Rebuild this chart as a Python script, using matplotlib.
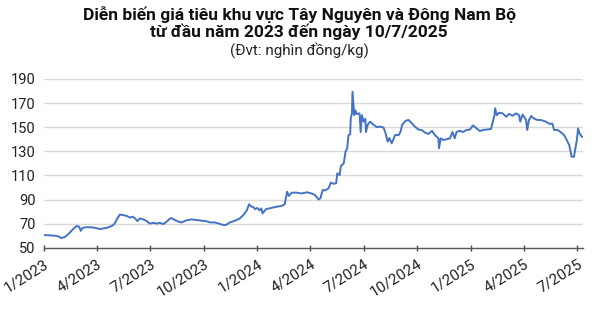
import matplotlib
matplotlib.use("Agg")
import matplotlib.pyplot as plt
import pandas as pd

plt.rcParams['font.family'] = ['Roboto', 'DejaVu Sans']

title_line1 = "Diễn biến giá tiêu khu vực Tây Nguyên và Đông Nam Bộ"
title_line2 = "từ đầu năm 2023 đến ngày 10/7/2025"
subtitle = "(Đvt: nghìn đồng/kg)"

dates = [
    "2023-01-01", "2023-01-19", "2023-01-25", "2023-01-31", "2023-02-06", "2023-02-11",
    "2023-02-16", "2023-02-21", "2023-02-26", "2023-03-02", "2023-03-05", "2023-03-08",
    "2023-03-15", "2023-03-26", "2023-04-07", "2023-04-18", "2023-04-27", "2023-05-02",
    "2023-05-06", "2023-05-11", "2023-05-17", "2023-05-22", "2023-05-28", "2023-06-02",
    "2023-06-06", "2023-06-10", "2023-06-14", "2023-06-20", "2023-06-26", "2023-07-01",
    "2023-07-07", "2023-07-13", "2023-07-18", "2023-07-24", "2023-07-30", "2023-08-04",
    "2023-08-07", "2023-08-13", "2023-08-19", "2023-08-24", "2023-09-02", "2023-09-10",
    "2023-09-19", "2023-09-28", "2023-10-06", "2023-10-12", "2023-10-20", "2023-10-26",
    "2023-11-04", "2023-11-09", "2023-11-15", "2023-11-24", "2023-12-02", "2023-12-08",
    "2023-12-14", "2023-12-18", "2023-12-22", "2023-12-25", "2023-12-28", "2024-01-01",
    "2024-01-05", "2024-01-08", "2024-01-10", "2024-01-16", "2024-01-25", "2024-02-03",
    "2024-02-11", "2024-02-17", "2024-02-21", "2024-02-24", "2024-02-29", "2024-03-08",
    "2024-03-17", "2024-03-26", "2024-04-03", "2024-04-09", "2024-04-15", "2024-04-18",
    "2024-04-22", "2024-04-26", "2024-05-02", "2024-05-06", "2024-05-11", "2024-05-15",
    "2024-05-17", "2024-05-21", "2024-05-23", "2024-05-28", "2024-05-31", "2024-06-03",
    "2024-06-05", "2024-06-08", "2024-06-09", "2024-06-11", "2024-06-12", "2024-06-15",
    "2024-06-17", "2024-06-19", "2024-06-24", "2024-06-26", "2024-06-28", "2024-07-01",
    "2024-07-04", "2024-07-05", "2024-07-08", "2024-07-12", "2024-07-18", "2024-07-24",
    "2024-07-29", "2024-08-04", "2024-08-07", "2024-08-11", "2024-08-14", "2024-08-18",
    "2024-08-24", "2024-08-30", "2024-09-02", "2024-09-05", "2024-09-11", "2024-09-16",
    "2024-09-22", "2024-09-27", "2024-10-03", "2024-10-09", "2024-10-14", "2024-10-20",
    "2024-10-26", "2024-10-31", "2024-11-06", "2024-11-07", "2024-11-10", "2024-11-14",
    "2024-11-20", "2024-11-26", "2024-11-30", "2024-12-04", "2024-12-07", "2024-12-12",
    "2024-12-18", "2024-12-24", "2024-12-30", "2025-01-04", "2025-01-09", "2025-01-16",
    "2025-01-21", "2025-01-27", "2025-02-04", "2025-02-10", "2025-02-11", "2025-02-14",
    "2025-02-18", "2025-02-24", "2025-03-02", "2025-03-07", "2025-03-13", "2025-03-19",
    "2025-03-24", "2025-03-26", "2025-03-30", "2025-04-05", "2025-04-07", "2025-04-10",
    "2025-04-14", "2025-04-18", "2025-04-24", "2025-04-30", "2025-05-09", "2025-05-15",
    "2025-05-20", "2025-05-23", "2025-05-29", "2025-06-03", "2025-06-09", "2025-06-13",
    "2025-06-18", "2025-06-22", "2025-06-26", "2025-06-28", "2025-07-01", "2025-07-03",
    "2025-07-06", "2025-07-10",
]
prices = [
    60.5, 60.0, 59.5, 58.0, 59.0, 61.0,
    63.5, 66.0, 68.0, 67.5, 64.0, 66.5,
    67.0, 66.8, 65.5, 66.5, 68.0, 70.0,
    74.0, 77.5, 77.0, 76.5, 75.0, 75.7,
    74.3, 72.0, 74.3, 73.5, 72.0, 70.0,
    70.7, 70.0, 70.7, 69.6, 71.6, 74.0,
    74.6, 73.0, 71.6, 71.0, 72.7, 73.5,
    73.0, 72.4, 72.0, 71.0, 71.0, 70.2,
    68.8, 69.0, 71.0, 72.4, 74.3, 77.0,
    81.0, 86.0, 84.0, 84.0, 82.0, 83.0,
    81.0, 82.6, 78.5, 82.0, 83.0, 84.0,
    84.6, 86.0, 96.5, 93.0, 95.7, 95.7,
    95.0, 96.0, 95.0, 93.7, 90.0, 91.0,
    97.9, 97.5, 99.3, 104.0, 103.0, 103.5,
    111.7, 110.3, 117.8, 120.0, 129.7, 132.5,
    143.5, 144.0, 157.4, 161.5, 179.5, 160.0,
    164.0, 161.0, 161.5, 146.0, 160.0, 154.6,
    157.0, 146.0, 152.0, 154.6, 152.0, 150.0,
    150.5, 149.7, 146.0, 138.0, 141.0, 136.6,
    143.5, 143.5, 146.0, 152.0, 155.4, 156.0,
    153.0, 150.4, 148.0, 147.5, 145.5, 144.4,
    147.0, 143.5, 140.8, 132.5, 140.8, 139.4,
    140.0, 140.8, 146.0, 140.8, 146.0, 147.0,
    146.0, 147.7, 148.0, 151.5, 149.5, 146.8,
    147.7, 148.0, 148.5, 160.0, 165.7, 160.0,
    162.0, 161.5, 158.7, 161.0, 159.5, 161.5,
    160.0, 154.6, 160.5, 156.0, 147.7, 156.0,
    159.3, 157.4, 156.0, 156.0, 154.6, 152.7,
    153.0, 147.7, 147.7, 146.0, 143.5, 140.0,
    135.0, 125.5, 125.5, 131.0, 139.4, 149.0,
    144.4, 142.0,
]

tick_dates = ["2023-01-01", "2023-04-01", "2023-07-01", "2023-10-01", "2024-01-01",
              "2024-04-01", "2024-07-01", "2024-10-01", "2025-01-01", "2025-04-01",
              "2025-07-01"]
tick_labels = ["1/2023", "4/2023", "7/2023", "10/2023", "1/2024", "4/2024",
               "7/2024", "10/2024", "1/2025", "4/2025", "7/2025"]
y_ticks = [50, 70, 90, 110, 130, 150, 170, 190]

x = pd.to_datetime(dates)

fig = plt.figure(figsize=(6.13, 3.11), dpi=100)
ax = fig.add_axes([0.0718, 0.2035, 0.8788, 0.5425])

ax.plot(x, prices, color="#4472C4", linewidth=1.4, zorder=3)

ax.set_ylim(50, 190)
ax.set_yticks(y_ticks)
ax.set_xlim(pd.Timestamp("2023-01-01"), pd.Timestamp("2025-07-11"))
ax.set_xticks(pd.to_datetime(tick_dates))
ax.set_xticklabels(tick_labels, rotation=32, ha="right", rotation_mode="anchor")

ax.grid(axis="y", color="#d9d9d9", linewidth=1.0, zorder=0)
ax.set_axisbelow(True)
for s in ["top", "right", "left"]:
    ax.spines[s].set_visible(False)
ax.spines["bottom"].set_color("#595959")
ax.spines["bottom"].set_linewidth(1.0)
ax.tick_params(axis="y", length=0, labelsize=10.5, colors="#222222", pad=6)
ax.tick_params(axis="x", direction="inout", length=5, width=1, color="#404040",
               labelsize=11, labelcolor="#222222", pad=4)

fig.text(0.488, 0.982, title_line1, ha="center", va="top", fontsize=12.5,
         fontweight="bold", color="#111111")
fig.text(0.488, 0.926, title_line2, ha="center", va="top", fontsize=12.5,
         fontweight="bold", color="#111111")
fig.text(0.488, 0.866, subtitle, ha="center", va="top", fontsize=11,
         color="#222222")

fig.savefig("out.png", dpi=100)
